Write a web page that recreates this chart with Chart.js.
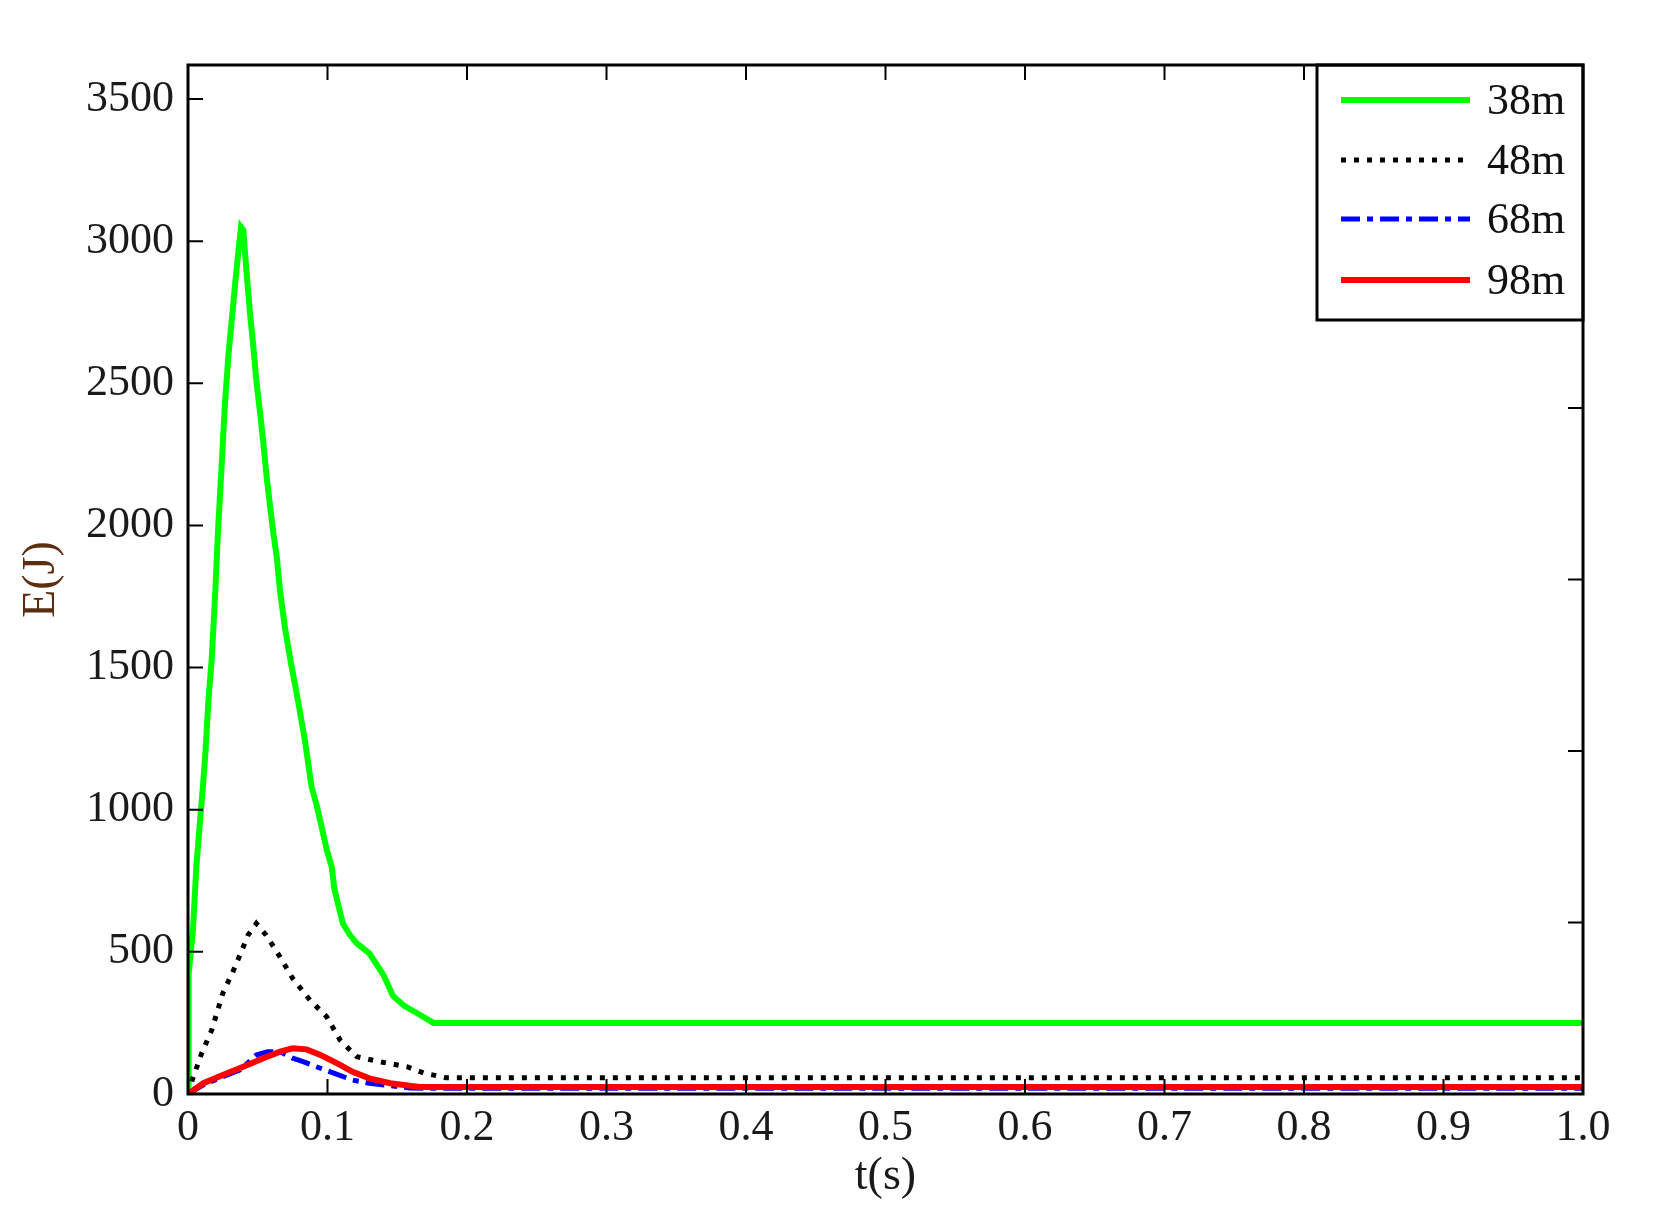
<!DOCTYPE html>
<html>
<head>
<meta charset="utf-8">
<script src="https://cdn.jsdelivr.net/npm/chart.js@4.4.1/dist/chart.umd.min.js"></script>
<style>
  html, body { margin: 0; padding: 0; background: #fff; }
  #wrap { width: 1653px; height: 1228px; position: relative; }
</style>
</head>
<body>
<div id="wrap"><canvas id="energy-chart" width="1653" height="1228"></canvas></div>
<script>
// energy vs time, four distances
var labels = ['38m', '48m', '68m', '98m'];
var xTicks = [0, 0.1, 0.2, 0.3, 0.4, 0.5, 0.6, 0.7, 0.8, 0.9, 1.0];
var yTicks = [0, 500, 1000, 1500, 2000, 2500, 3000, 3500];

var t38 = [0, 0.0004, 0.0036, 0.006, 0.0086, 0.0105, 0.0125, 0.0146, 0.017, 0.0195, 0.0215, 0.024, 0.0265, 0.029, 0.0315, 0.034, 0.0365, 0.038, 0.0396, 0.042, 0.0444, 0.0468, 0.049, 0.0516, 0.054, 0.0564, 0.0588, 0.061, 0.0636, 0.066, 0.0695, 0.074, 0.079, 0.0839, 0.0886, 0.092, 0.0958, 0.0994, 0.103, 0.105, 0.108, 0.111, 0.116, 0.121, 0.130, 0.140, 0.147, 0.155, 0.164, 0.176, 1.0];
var e38 = [0, 420, 580, 800, 960, 1070, 1200, 1380, 1530, 1760, 1980, 2200, 2430, 2600, 2730, 2860, 2980, 3050, 3040, 2890, 2750, 2630, 2510, 2400, 2290, 2170, 2070, 1980, 1890, 1770, 1640, 1510, 1380, 1240, 1080, 1020, 940, 860, 800, 720, 660, 600, 560, 530, 495, 420, 345, 310, 285, 250, 250];

var t48 = [0, 0.003, 0.0098, 0.017, 0.025, 0.032, 0.0396, 0.043, 0.049, 0.056, 0.066, 0.075, 0.0875, 0.0994, 0.109, 0.121, 0.138, 0.157, 0.169, 0.185, 1.0];
var e48 = [0, 49, 143, 225, 355, 428, 517, 559, 600, 559, 482, 407, 330, 272, 190, 131, 113, 96, 74, 57, 57];

var t68 = [0, 0.012, 0.028, 0.037, 0.049, 0.057, 0.066, 0.075, 0.083, 0.092, 0.104, 0.118, 0.130, 0.159, 0.17, 1.0];
var e68 = [0, 35, 67, 84, 137, 149, 149, 126, 113, 96, 74, 49, 38, 21, 20, 20];

var t98 = [0, 0.011, 0.025, 0.0396, 0.054, 0.066, 0.075, 0.085, 0.095, 0.107, 0.118, 0.130, 0.145, 0.166, 1.0];
var e98 = [0, 38, 67, 96, 126, 149, 161, 157, 137, 108, 78, 55, 38, 25, 25];

var yMax = 3620;

function pts(t, e) {
  var out = [];
  for (var i in t) out.push({x: t[i], y: e[i]});
  return out;
}

var serif = '"Liberation Serif", "DejaVu Serif", serif';

// frame, inner ticks and legend box
var framePlugin = {
  id: 'frame',
  afterDraw: function(chart) {
    var ctx = chart.ctx, a = chart.chartArea;
    var xs = chart.scales.x, ys = chart.scales.y;
    ctx.save();
    ctx.strokeStyle = '#000';
    ctx.lineWidth = 2;
    var tl = 15;
    ctx.beginPath();
    for (var i in xTicks) {
      var px = xs.getPixelForValue(xTicks[i]);
      ctx.moveTo(px, a.bottom); ctx.lineTo(px, a.bottom - tl);
      ctx.moveTo(px, a.top); ctx.lineTo(px, a.top + tl);
    }
    for (var j in yTicks) {
      var py = ys.getPixelForValue(yTicks[j]);
      ctx.moveTo(a.left, py); ctx.lineTo(a.left + tl, py);
    }
    for (var k = 1; k < 6; k++) {
      var pr = ys.getPixelForValue(yMax * k / 6);
      ctx.moveTo(a.right, pr); ctx.lineTo(a.right - tl, pr);
    }
    ctx.stroke();

    // legend
    var lx = 1317, ly = a.top, lw = a.right - lx, lh = 255;
    ctx.fillStyle = '#fff';
    ctx.fillRect(lx, ly, lw, lh);
    ctx.lineWidth = 3;
    ctx.strokeRect(lx, ly, lw, lh);
    var rows = [100, 160, 219, 280];
    ctx.font = '44px ' + serif;
    ctx.textBaseline = 'middle';
    ctx.textAlign = 'left';
    chart.data.datasets.forEach(function(ds, n) {
      ctx.beginPath();
      ctx.strokeStyle = ds.borderColor;
      ctx.lineWidth = ds.borderWidth;
      ctx.lineCap = 'butt';
      ctx.setLineDash(ds.borderDash || []);
      ctx.moveTo(1341, rows[n]); ctx.lineTo(1470, rows[n]);
      ctx.stroke();
      ctx.setLineDash([]);
      ctx.fillStyle = '#111';
      ctx.fillText(ds.label, 1487, rows[n] + 2);
    });

    // border
    ctx.strokeStyle = '#000';
    ctx.lineWidth = 3;
    ctx.strokeRect(a.left, a.top, a.right - a.left, a.bottom - a.top);
    ctx.restore();
  }
};

new Chart(document.getElementById('energy-chart'), {
  type: 'line',
  data: {
    datasets: [
      { label: labels[0], data: pts(t38, e38), borderColor: '#00ff00', borderWidth: 6, order: 4 },
      { label: labels[1], data: pts(t48, e48), borderColor: '#000000', borderWidth: 5, borderDash: [5, 8], order: 3 },
      { label: labels[2], data: pts(t68, e68), borderColor: '#0000ff', borderWidth: 5, borderDash: [19, 7, 6, 7], order: 2 },
      { label: labels[3], data: pts(t98, e98), borderColor: '#ff0000', borderWidth: 6, order: 1 }
    ]
  },
  options: {
    responsive: false,
    animation: false,
    events: [],
    elements: {
      point: { radius: 0 },
      line: { tension: 0, fill: false, borderCapStyle: 'butt' }
    },
    layout: { padding: { left: 0, right: 70, top: 65, bottom: 0 } },
    plugins: { legend: { display: false }, tooltip: { enabled: false } },
    scales: {
      x: {
        type: 'linear',
        min: 0, max: 1.0,
        grid: { display: false, drawTicks: false },
        border: { display: false },
        afterFit: function(s) { s.height = 134; },
        afterBuildTicks: function(s) { s.ticks = xTicks.map(function(v) { return {value: v}; }); },
        ticks: {
          padding: 8,
          color: '#1a1a1a',
          font: { family: serif, size: 44 },
          maxRotation: 0,
          callback: function(v) { return v === 0 ? '0' : v.toFixed(1); }
        },
        title: {
          display: true, text: 't(s)', color: '#1a1a1a',
          font: { family: serif, size: 46 },
          padding: { top: 0, bottom: 23 }
        }
      },
      y: {
        min: 0, max: yMax,
        grid: { display: false, drawTicks: false },
        border: { display: false },
        afterFit: function(s) { s.width = 188; },
        afterBuildTicks: function(s) { s.ticks = yTicks.map(function(v) { return {value: v}; }); },
        ticks: {
          padding: 14,
          color: '#1a1a1a',
          font: { family: serif, size: 44 },
          callback: function(v) { return String(v); }
        },
        title: {
          display: true, text: 'E(J)', color: '#5b2e12',
          font: { family: serif, size: 46 },
          padding: { top: 14, bottom: 0 }
        }
      }
    }
  },
  plugins: [framePlugin]
});
</script>
</body>
</html>
